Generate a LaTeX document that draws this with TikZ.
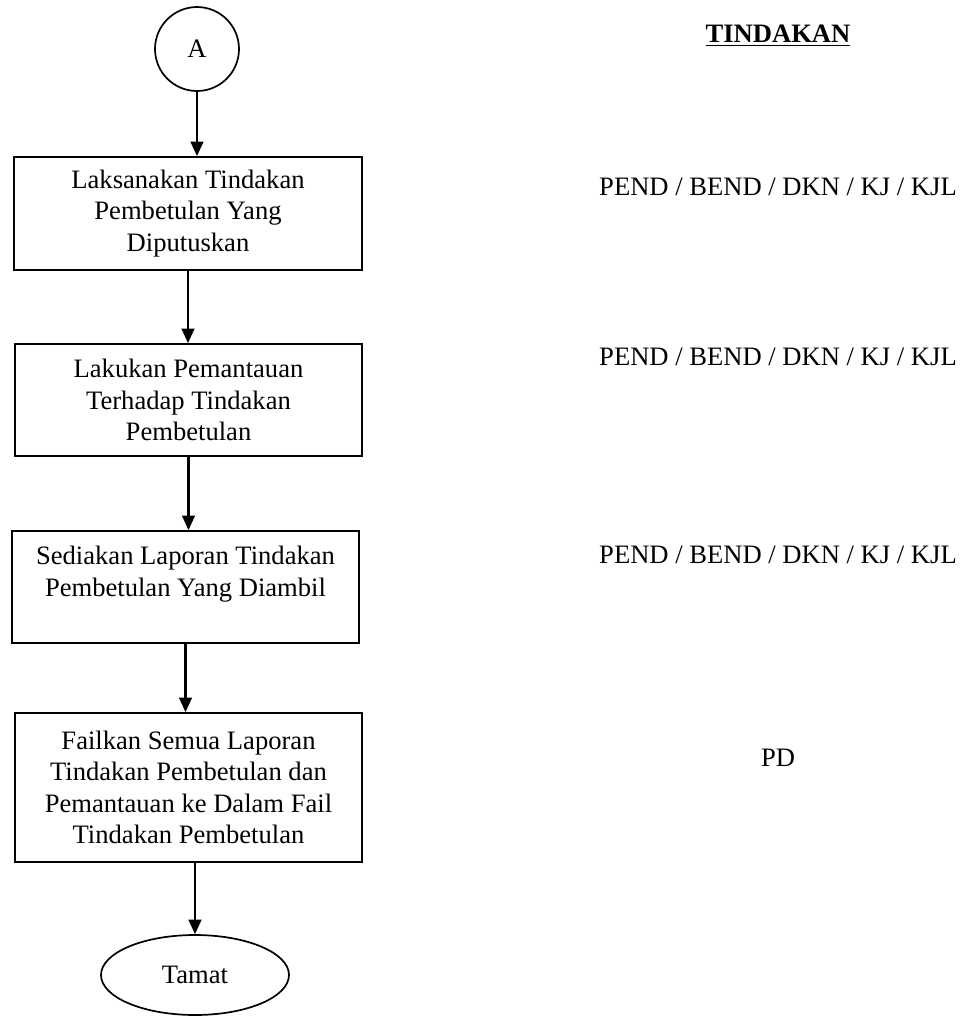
\documentclass[tikz,border=0pt]{standalone}
\usepackage{fontspec}
\setmainfont{Liberation Serif}
\usetikzlibrary{arrows.meta,shapes.geometric}
\newlength\upx
\setlength\upx{0.47pt}
\begin{document}
\begin{tikzpicture}[x=0.47pt,y=-0.47pt,
  every node/.style={font=\fontsize{12.5pt}{14.7pt}\selectfont},
  box/.style={draw,line width=0.9pt,rectangle,align=center,inner sep=0pt},
  arr/.style={line width=1pt,-{Triangle[length=6.8pt,width=6pt]}},
  lbl/.style={anchor=base}]
\useasboundingbox (0,0) rectangle (968,1017);
% start connector
\node[draw,circle,line width=0.8pt,minimum size=84\upx,inner sep=0pt] (A) at (197,49) {A};
\node[box,minimum width=348\upx,minimum height=113\upx] (b1) at (188,213.5)
  {Laksanakan Tindakan\\Pembetulan Yang\\Diputuskan};
\node[box,minimum width=347\upx,minimum height=112\upx] (b2) at (188.5,400)
  {Lakukan Pemantauan\\Terhadap Tindakan\\Pembetulan};
\node[box,minimum width=347\upx,minimum height=112\upx] (b3) at (185.5,587)
  {Sediakan Laporan Tindakan\\Pembetulan Yang Diambil\\\mbox{}};
\node[box,minimum width=347\upx,minimum height=149\upx] (b4) at (188.5,787.5)
  {Failkan Semua Laporan\\Tindakan Pembetulan dan\\Pemantauan ke Dalam Fail\\Tindakan Pembetulan};
\node[draw,ellipse,line width=0.8pt,minimum width=188\upx,minimum height=80\upx,inner sep=0pt] (e) at (195,975) {Tamat};
% connectors
\draw[arr] (A.south) -- (A.south |- b1.north);
\draw[arr] (b1.south) -- (b1.south |- b2.north);
\draw[arr] (b2.south) -- (b2.south |- b3.north);
\draw[arr] (b3.south) -- (b3.south |- b4.north);
\draw[arr] (e.north |- b4.south) -- (e.north);
% right column
\node[lbl] (t) at (778,42) {\textbf{\underline{TINDAKAN}}};
\node[lbl] (r1) at (778,195) {PEND / BEND / DKN / KJ / KJL};
\node[lbl] (r2) at (778,365) {PEND / BEND / DKN / KJ / KJL};
\node[lbl] (r3) at (778,563) {PEND / BEND / DKN / KJ / KJL};
\node[lbl] (r4) at (778,766) {PD};
\end{tikzpicture}
\end{document}
